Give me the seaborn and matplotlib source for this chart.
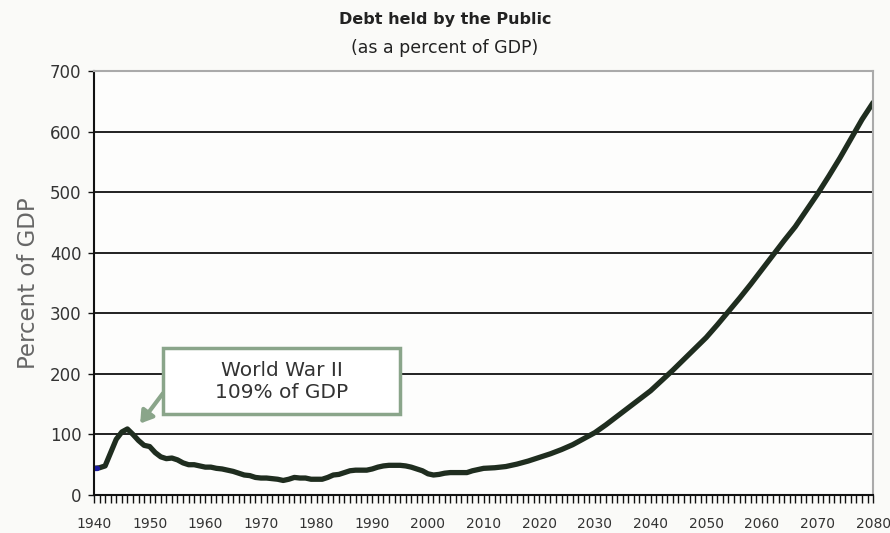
import numpy as np
import pandas as pd
import seaborn as sns
import matplotlib
matplotlib.use("Agg")
import matplotlib.pyplot as plt
from matplotlib.patches import Rectangle
from matplotlib.ticker import MultipleLocator

# ---- data ----
years = [1940, 1941, 1942, 1943, 1944, 1945, 1946, 1947, 1948, 1949,
         1950, 1951, 1952, 1953, 1954, 1955, 1956, 1957, 1958, 1959,
         1960, 1961, 1962, 1963, 1964, 1965, 1966, 1967, 1968, 1969,
         1970, 1971, 1972, 1973, 1974, 1975, 1976, 1977, 1978, 1979,
         1980, 1981, 1982, 1983, 1984, 1985, 1986, 1987, 1988, 1989,
         1990, 1991, 1992, 1993, 1994, 1995, 1996, 1997, 1998, 1999,
         2000, 2001, 2002, 2003, 2004, 2005, 2006, 2007, 2008, 2009,
         2010, 2012, 2014, 2016, 2018, 2020, 2022, 2024, 2026, 2028,
         2030, 2032, 2034, 2036, 2038, 2040, 2042, 2044, 2046, 2048,
         2050, 2052, 2054, 2056, 2058, 2060, 2062, 2064, 2066, 2068,
         2070, 2072, 2074, 2076, 2078, 2080]
debt_pct = [44, 45, 48, 70, 92, 104, 109, 100, 90, 82,
            80, 70, 63, 60, 61, 58, 53, 50, 50, 48,
            46, 46, 44, 43, 41, 39, 36, 33, 32, 29,
            28, 28, 27, 26, 24, 26, 29, 28, 28, 26,
            26, 26, 29, 33, 34, 37, 40, 41, 41, 41,
            43, 46, 48, 49, 49, 49, 48, 46, 43, 40,
            35, 33, 34, 36, 37, 37, 37, 37, 40, 42,
            44, 45, 47, 51, 56, 62, 68, 75, 83, 93,
            103, 116, 130, 144, 158, 172, 189, 206, 224, 242,
            260, 281, 303, 325, 348, 372, 396, 420, 443, 470,
            497, 526, 556, 588, 620, 648]

hist_years = [1940.0, 1940.6]
hist_pct = [44, 44]

y_ticks = [0, 100, 200, 300, 400, 500, 600, 700]
x_ticks = [1940, 1950, 1960, 1970, 1980, 1990, 2000, 2010, 2020, 2030,
           2040, 2050, 2060, 2070, 2080]

title = "Debt held by the Public"
subtitle = "(as a percent of GDP)"
y_label = "Percent of GDP"
note = "World War II\n109% of GDP"

# ---- styling ----
sns.set_style("white")
plt.rcParams["font.family"] = ["DejaVu Sans"]

fig = plt.figure(figsize=(8.9, 5.33), dpi=100)
fig.patch.set_facecolor("#fafaf8")
ax = fig.add_axes([0.1056, 0.0713, 0.8755, 0.7955])
ax.set_facecolor("#fdfdfc")

df = pd.DataFrame({"year": years, "pct": debt_pct})
sns.lineplot(data=df, x="year", y="pct", ax=ax, color="#1f2d1f",
             linewidth=3.8, solid_capstyle="round", solid_joinstyle="round")
sns.lineplot(x=hist_years, y=hist_pct, ax=ax, color="#1a1aa0", linewidth=3.8)

ax.set_xlim(1940, 2080)
ax.set_ylim(0, 700)
ax.set_yticks(y_ticks)
ax.set_xticks(x_ticks)
ax.xaxis.set_minor_locator(MultipleLocator(1))

for v in y_ticks[1:-1]:
    ax.axhline(v, color="#111111", linewidth=1.3, zorder=0.5)

ax.tick_params(axis="y", which="major", direction="out", length=4, width=1,
               color="#111111", labelsize=12, labelcolor="#333333", pad=5, left=True)
ax.tick_params(axis="x", which="both", direction="out", length=6, width=1,
               color="#111111", bottom=True)
ax.tick_params(axis="x", which="major", labelsize=10, labelcolor="#333333", pad=10)

for s in ["left", "bottom"]:
    ax.spines[s].set_color("#111111")
    ax.spines[s].set_linewidth(1.5)
for s in ["top", "right"]:
    ax.spines[s].set_visible(True)
    ax.spines[s].set_color("#aaaaaa")
    ax.spines[s].set_linewidth(1.5)

ax.set_xlabel("")
ax.set_ylabel(y_label, fontsize=16.5, color="#666666", labelpad=7)

fig.text(0.5, 0.963, title, ha="center", va="center", fontsize=11.5,
         fontweight="bold", color="#222222")
fig.text(0.5, 0.91, subtitle, ha="center", va="center", fontsize=12.5,
         color="#222222")

# annotation box
box_color = "#8aa58a"
ax.add_patch(Rectangle((1952.4, 134), 42.6, 109, facecolor="white",
                       edgecolor=box_color, linewidth=2.5, zorder=4))
ax.text(1973.7, 188, note, ha="center", va="center", fontsize=14.5,
        color="#333333", linespacing=1.2, zorder=5)
ax.annotate("", xy=(1948.3, 118), xytext=(1952.4, 168),
            arrowprops=dict(arrowstyle="-|>,head_length=0.7,head_width=0.45",
                            color=box_color, lw=3, shrinkA=0, shrinkB=0),
            zorder=3)

fig.savefig("out.png", dpi=100, facecolor=fig.get_facecolor())
